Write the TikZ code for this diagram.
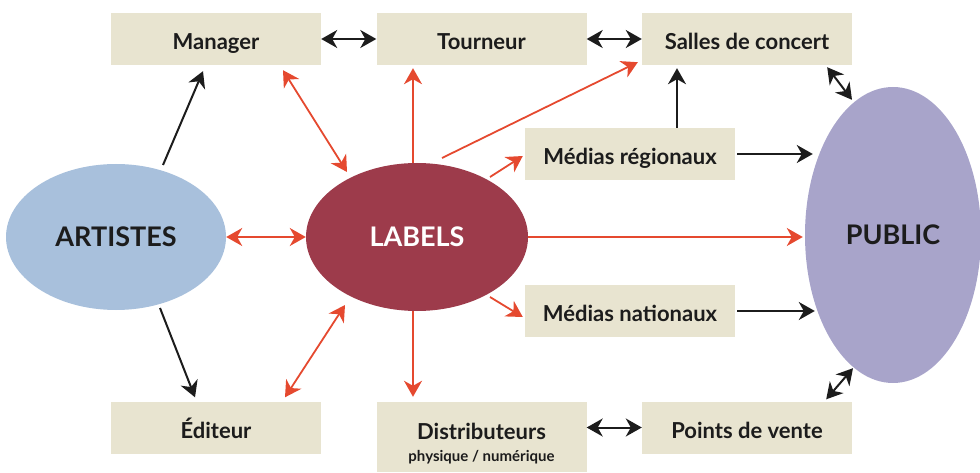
\documentclass[tikz,border=0pt]{standalone}
\usepackage{fontspec}
\setmainfont{Lato}
\usetikzlibrary{shapes.geometric,arrows.meta,calc}
\definecolor{boxfill}{RGB}{232,228,208}
\definecolor{artfill}{RGB}{168,192,220}
\definecolor{labfill}{RGB}{157,59,75}
\definecolor{pubfill}{RGB}{168,164,202}
\definecolor{redarr}{RGB}{229,73,47}
\definecolor{txt}{RGB}{28,28,28}
\tikzset{
  boxnode/.style={fill=boxfill, minimum width=210pt, minimum height=52pt, inner sep=0pt,
    text height=22pt, text depth=1pt,
    font=\fontsize{22}{26}\selectfont\bfseries, text=txt},
  ellnode/.style={ellipse, inner sep=0pt, font=\fontsize{27}{31}\selectfont\bfseries},
  bk/.style={draw=txt, line width=2pt, ->},
  bkk/.style={draw=txt, line width=2pt, <->},
  rd/.style={draw=redarr, line width=1.8pt, ->},
  rdd/.style={draw=redarr, line width=1.8pt, <->},
  subtxt/.style={text=txt, inner sep=0pt, anchor=base},
}
\begin{document}
\begin{tikzpicture}[x=1pt,y=-1pt, >={Stealth[length=16pt,width=18pt,inset=5pt]}]
\useasboundingbox (0,0) rectangle (980,473);
% boxes
\node[boxnode] (manager) at (216,39) {Manager};
\node[boxnode] (tourneur) at (481.5,39) {Tourneur};
\node[boxnode] (salles) at (747,39) {Salles de concert};
\node[boxnode] (medreg) at (630,154) {Médias régionaux};
\node[boxnode] (mednat) at (630,311) {Médias nationaux};
\node[boxnode] (editeur) at (216,427.5) {Éditeur};
\node[boxnode, minimum height=70pt, text height=0pt, text depth=0pt] (distrib) at (481.5,437) {};
\node[subtxt, font=\fontsize{22}{26}\selectfont\bfseries] (distribt) at (481.5,439) {Distributeurs};
\node[subtxt, font=\fontsize{15}{18}\selectfont\bfseries] (distribs) at (481.5,461) {physique / numérique};
\node[boxnode] (points) at (747,427.5) {Points de vente};
% ellipses
\node[ellnode, fill=artfill, minimum width=220pt, minimum height=146pt, text=txt] (artistes) at (116,237) {ARTISTES};
\node[ellnode, fill=labfill, minimum width=222pt, minimum height=148pt, text=white] (labels) at (417,237) {LABELS};
\node[ellnode, fill=pubfill, minimum width=176pt, minimum height=296pt, text=txt] (public) at (893,235) {PUBLIC};
% black connectors
\draw[bkk] (manager.east) -- (tourneur.west);
\draw[bkk] (tourneur.east) -- (salles.west);
\draw[bk] ($(artistes)+(47,-72)$) -- ($(manager.south)+(-13,6)$);
\draw[bk] ($(artistes)+(44,71)$) -- ($(editeur.north)+(-21,-4)$);
\draw[bkk] ($(salles.south east)+(-25,2)$) -- ($(public.north)+(-41,13)$);
\draw[bk] ($(medreg.north)+(47,0)$) -- ($(salles.south)+(-70,3)$);
\draw[bk] ($(medreg.east)+(2,0)$) -- ($(medreg.east -| public.west)+(8,0)$);
\draw[bk] ($(mednat.east)+(2,0)$) -- ($(mednat.east -| public.west)+(10,0)$);
\draw[bkk] (distrib.east |- points.west) -- (points.west);
\draw[bkk] ($(points.north east)+(-26,-2)$) -- ($(public.south)+(-40,-15)$);
% red connectors
\draw[rdd] (artistes.east) -- (labels.west);
\draw[rdd] ($(labels)+(-70,-65)$) -- ($(manager.south)+(67,5)$);
\draw[rd] ($(labels.north)+(-4,0)$) -- ($(labels.north |- tourneur.south)+(-4,3)$);
\draw[rd] ($(labels)+(25,-79)$) -- ($(salles.south west)+(-4,-3)$);
\draw[rd] ($(labels)+(73,-60)$) -- ($(medreg.west)+(-2,2)$);
\draw[rd] (labels.east) -- ($(labels.east -| public.west)+(-2,0)$);
\draw[rd] ($(labels)+(73,60)$) -- ($(mednat.west)+(-2,6)$);
\draw[rd] ($(labels.south)+(-4,0)$) -- ($(labels.south |- distrib.north)+(-4,-5)$);
\draw[rdd] ($(labels)+(-72,68)$) -- ($(editeur.north)+(69,-4)$);
\end{tikzpicture}
\end{document}
